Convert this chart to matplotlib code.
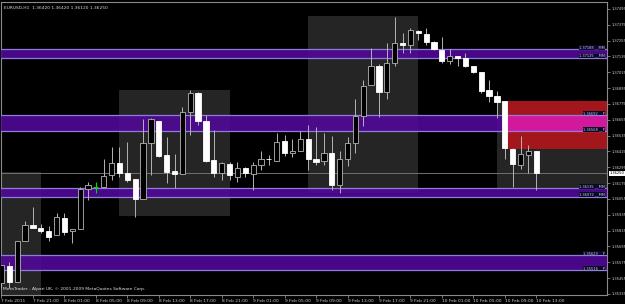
import matplotlib
matplotlib.use("Agg")
import matplotlib.pyplot as plt
from matplotlib.patches import Rectangle
import matplotlib.transforms as mtransforms

# EURUSD H1 bars, 7 Feb 2011 17:00 .. 10 Feb 2011 13:00
opens = [1.35418, 1.35547, 1.35426, 1.35736, 1.35858, 1.35835, 1.35812, 1.35782, 1.35911, 1.35812,
         1.35827, 1.36130, 1.36146, 1.36146, 1.36237, 1.36328, 1.36252, 1.36207, 1.36055, 1.36479,
         1.36646, 1.36389, 1.36267, 1.36244, 1.36714, 1.36858, 1.36646, 1.36351, 1.36252, 1.36320,
         1.36222, 1.36290, 1.36244, 1.36313, 1.36358, 1.36343, 1.36494, 1.36404, 1.36419, 1.36510,
         1.36358, 1.36343, 1.36404, 1.36161, 1.36358, 1.36479, 1.36684, 1.36919, 1.37063, 1.36866,
         1.37086, 1.37237, 1.37222, 1.37328, 1.37306, 1.37245, 1.37184, 1.37101, 1.37139, 1.37124,
         1.37063, 1.37017, 1.36881, 1.36836, 1.36798, 1.36434, 1.36313, 1.36389, 1.36420]
highs = [1.35555, 1.35577, 1.35736, 1.35888, 1.35994, 1.35865, 1.35850, 1.35949, 1.35949, 1.35827,
         1.36146, 1.36184, 1.36184, 1.36358, 1.36449, 1.36449, 1.36487, 1.36207, 1.36661, 1.36669,
         1.36646, 1.36525, 1.36396, 1.36752, 1.36881, 1.36866, 1.36692, 1.36578, 1.36335, 1.36335,
         1.36335, 1.36297, 1.36335, 1.36419, 1.36389, 1.36555, 1.36540, 1.36510, 1.36570, 1.36616,
         1.36601, 1.36555, 1.36532, 1.36419, 1.36525, 1.36813, 1.36957, 1.37199, 1.37078, 1.37237,
         1.37434, 1.37313, 1.37351, 1.37336, 1.37351, 1.37252, 1.37283, 1.37192, 1.37139, 1.37161,
         1.37063, 1.37017, 1.36957, 1.36874, 1.36798, 1.36442, 1.36532, 1.36464, 1.36420]
lows = [1.35380, 1.35380, 1.35426, 1.35736, 1.35835, 1.35797, 1.35736, 1.35782, 1.35782, 1.35721,
        1.35827, 1.36047, 1.36100, 1.36146, 1.36199, 1.36222, 1.36184, 1.35918, 1.36055, 1.36237,
        1.36373, 1.36176, 1.36138, 1.36244, 1.36540, 1.36616, 1.36335, 1.36222, 1.36199, 1.36199,
        1.36184, 1.36222, 1.36123, 1.36275, 1.36313, 1.36343, 1.36381, 1.36373, 1.36419, 1.36275,
        1.36313, 1.36313, 1.36123, 1.36100, 1.36305, 1.36404, 1.36608, 1.36919, 1.36676, 1.36813,
        1.37063, 1.37161, 1.37161, 1.37260, 1.37222, 1.37184, 1.37086, 1.37078, 1.37063, 1.37055,
        1.37010, 1.36858, 1.36790, 1.36669, 1.36358, 1.36146, 1.36282, 1.36252, 1.36120]
closes = [1.35555, 1.35426, 1.35736, 1.35858, 1.35835, 1.35812, 1.35767, 1.35918, 1.35804, 1.35827,
          1.36130, 1.36161, 1.36146, 1.36229, 1.36328, 1.36252, 1.36199, 1.36055, 1.36479, 1.36661,
          1.36381, 1.36259, 1.36244, 1.36714, 1.36858, 1.36646, 1.36343, 1.36252, 1.36328, 1.36237,
          1.36290, 1.36252, 1.36313, 1.36358, 1.36355, 1.36487, 1.36404, 1.36419, 1.36510, 1.36358,
          1.36335, 1.36404, 1.36161, 1.36358, 1.36479, 1.36684, 1.36911, 1.37063, 1.36866, 1.37086,
          1.37237, 1.37222, 1.37336, 1.37313, 1.37245, 1.37192, 1.37101, 1.37139, 1.37124, 1.37063,
          1.37017, 1.36874, 1.36836, 1.36790, 1.36442, 1.36320, 1.36396, 1.36419, 1.36250]

time_labels = ["7 Feb 2011", "7 Feb 21:00", "8 Feb 01:00", "8 Feb 05:00", "8 Feb 09:00",
               "8 Feb 13:00", "8 Feb 17:00", "8 Feb 21:00", "9 Feb 01:00", "9 Feb 05:00",
               "9 Feb 09:00", "9 Feb 13:00", "9 Feb 17:00", "9 Feb 21:00", "10 Feb 01:00",
               "10 Feb 05:00", "10 Feb 09:00", "10 Feb 13:00"]
price_ticks = [1.37495, 1.37375, 1.37255, 1.37135, 1.37015, 1.36895, 1.36775, 1.36655, 1.36535,
               1.36415, 1.36295, 1.36175, 1.36055, 1.35935, 1.35815, 1.35695, 1.35575, 1.35455,
               1.35335]

# horizontal zones: upper line, lower line, tag
band_top = [1.37188, 1.36692, 1.36135, 1.35629]
band_bot = [1.37125, 1.36568, 1.36072, 1.35516]
band_tag = ["MM", "P", "MM", "P"]

# grey session boxes: start bar, end bar, top, bottom
box_start = [0, 15, 39, 63]
box_end = [5, 29, 53, 80]
box_top = [1.36259, 1.36881, 1.37442, 1.36798]
box_bot = [1.35200, 1.35926, 1.36100, 1.36130]

# red zone from the last big drop
red_start, red_top, red_bot = 64, 1.36798, 1.36434

last_price = closes[-1]
header = "EURUSD,H1  1.36420 1.36420 1.36120 1.36250"

fig = plt.figure(figsize=(6.25, 3.04), dpi=100, facecolor="black")
ax = fig.add_axes([1.5 / 625, 9 / 304, 605.5 / 625, 293 / 304], facecolor="black")
ax.set_xlim(0.06, 77.0)
ax.set_ylim(1.35327, 1.37548)

for s, e, t, b in zip(box_start, box_end, box_top, box_bot):
    ax.add_patch(Rectangle((s, b), e - s, t - b, facecolor="#252525", edgecolor="none", zorder=1))

ax.add_patch(Rectangle((red_start, red_bot), 20, red_top - red_bot,
                       facecolor="#a3161c", edgecolor="none", zorder=2))

for t, b, tag in zip(band_top, band_bot, band_tag):
    ax.add_patch(Rectangle((-5, b), 100, t - b, facecolor="#52089a", alpha=0.88,
                           edgecolor="none", zorder=3))
    ax.axhline(t, color="#8f7ae0", lw=0.9, zorder=3.5)
    ax.axhline(b, color="#8f7ae0", lw=0.9, zorder=3.5)
    if t < red_top and b > red_bot:
        ax.add_patch(Rectangle((red_start, b), 20, t - b, facecolor="#d2199c",
                               edgecolor="none", zorder=3.2))
    for lvl in (t, b):
        ax.text(76.75, lvl, f"{lvl:.5f} __{tag}", ha="right", va="bottom", fontsize=2.6,
                color="#c8c8e8", zorder=6,
                bbox=dict(facecolor="#0a0a28", edgecolor="none", pad=0.2))

# current price line
ax.axhline(last_price, color="#707070", lw=0.7, zorder=2.5)

# candles
wick_col = "#b4b4b4"
for i, (o, h, l, c) in enumerate(zip(opens, highs, lows, closes)):
    if o == c:
        ax.vlines(i, l, h, color="#00e000", lw=0.8, zorder=5)
        ax.hlines(o, i - 0.33, i + 0.33, color="#00e000", lw=0.8, zorder=5)
        continue
    ax.vlines(i, l, h, color=wick_col, lw=0.7, zorder=4)
    face = "black" if c > o else "white"
    ax.bar(i, abs(c - o), bottom=min(o, c), width=0.66, color=face,
           edgecolor=wick_col if c > o else "white", linewidth=0.6, zorder=5)

# axes styling
for side in ["left", "right", "top", "bottom"]:
    ax.spines[side].set_color("#8a8a8a")
    ax.spines[side].set_linewidth(0.8)

ax.yaxis.tick_right()
ax.set_yticks(price_ticks)
ax.set_yticklabels([f"{p:.5f}" for p in price_ticks])
ax.tick_params(axis="y", colors="#8a8a8a", labelcolor="#d0d0d0", labelsize=2.6,
               length=2, width=0.6, pad=1)
ax.set_xticks(list(range(0, 69, 4)))
ax.set_xticklabels(time_labels, ha="left")
ax.tick_params(axis="x", colors="#8a8a8a", labelcolor="#d0d0d0", labelsize=3.2,
               length=2.5, width=0.6, pad=0.5)

trans = mtransforms.blended_transform_factory(ax.transAxes, ax.transData)
ax.text(1.004, last_price, "1.36250", transform=trans, ha="left", va="center",
        fontsize=2.6, color="black", zorder=7,
        bbox=dict(facecolor="white", edgecolor="none", pad=0.4), clip_on=False)

ax.text(0.004, 0.988, header, transform=ax.transAxes, ha="left", va="top",
        fontsize=3.2, color="#d8d8d8", zorder=7)
ax.text(0.003, 0.012, "MetaTrader - Alpari UK, \u00a9 2001-2009 MetaQuotes Software Corp.",
        transform=ax.transAxes, ha="left", va="bottom", fontsize=3.2, color="#e0e0e0", zorder=7)

fig.savefig("out.png", dpi=100, facecolor="black")
